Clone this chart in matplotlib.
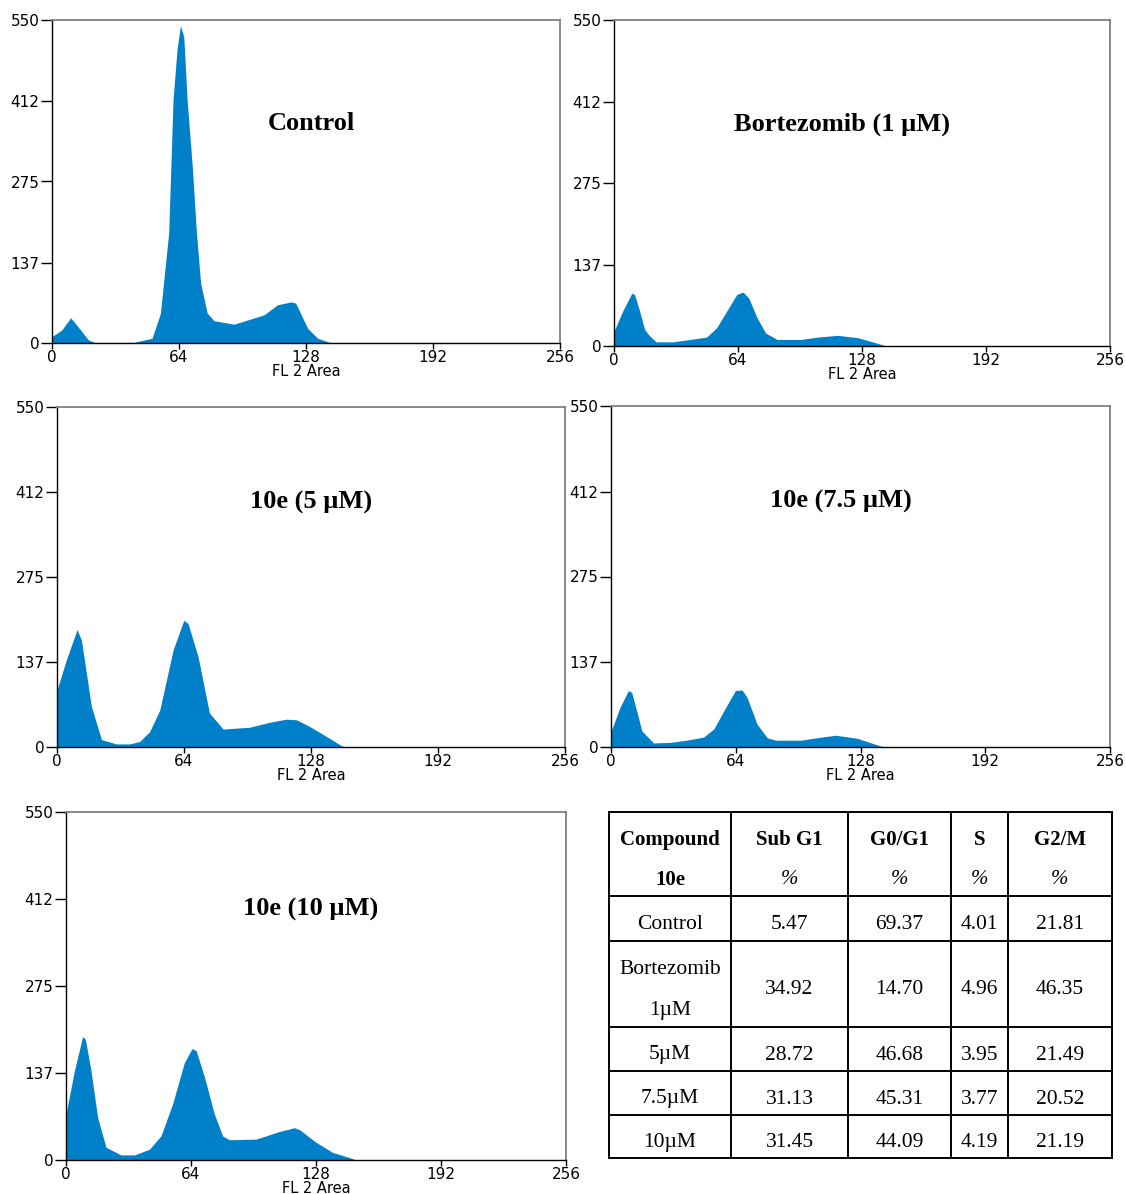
import matplotlib
matplotlib.use("Agg")
import matplotlib.pyplot as plt

W, H = 1126, 1194
BLUE = "#0080c8"

# histogram outlines: FL2 area (x) vs counts (y)
ctrl_x = [0, 4.9, 9.4, 13, 18.4, 21.7, 41, 50.4, 54.6, 58.8, 61, 63, 64.7, 66.4, 68.1, 70.7,
          72.8, 74.9, 78.2, 81.6, 91.7, 106.9, 113.6, 120.4, 122.8, 128.8, 133.9, 140, 256]
ctrl_y = [11, 22, 43, 28, 5, 1, 1, 8, 50, 187, 414, 500, 540, 522, 414, 300,
          187, 102, 51, 38, 32, 48, 65, 70, 68, 25, 8, 1, 1]

bort_x = [0, 4.5, 9.2, 10.6, 13.2, 15.8, 18.4, 21.8, 30.5, 39.2, 47.8, 53, 58.2, 63.4,
          66.6, 69.5, 73.8, 78.2, 84.2, 96.4, 105, 115.4, 125.8, 134.5, 140.6, 256]
bort_y = [25, 59, 89, 87, 59, 28, 17, 7, 7, 11, 15, 31, 59, 87,
          91, 81, 48, 22, 11, 11, 15, 18, 14, 6, 0, 0]

c5_x = [0, 4.7, 10.1, 12.3, 17.3, 22.4, 29.9, 36.6, 41.7, 46.7, 51.8, 58.5, 63.9, 66,
        71.1, 76.8, 83.7, 97.1, 107.2, 115.6, 120.7, 127.4, 135.8, 143.4, 146, 256]
c5_y = [92, 141, 190, 173, 66, 12, 5, 5, 9, 25, 60, 157, 205, 200,
        146, 55, 29, 32, 40, 45, 44, 33, 17, 2, 0, 0]

c75_x = [0, 4.6, 8.9, 10.6, 13.2, 15.8, 21.8, 30.4, 38.9, 47.5, 52.7, 57.8, 63.8, 67.2,
         69.8, 74.9, 80.1, 84.4, 97.3, 105.8, 115.3, 126.4, 135, 140, 256]
c75_y = [25, 64, 91, 88, 58, 26, 6.5, 7.5, 11, 16, 29, 58, 91, 92,
         80, 37, 15, 11, 11, 15, 19, 14, 5, 0, 0]

c10_x = [0, 4.3, 8.5, 9.9, 12.8, 16.2, 20.5, 28.2, 35, 42.7, 48.6, 54.6, 60.6, 64.5,
         66.6, 70.9, 75.9, 80.2, 83.6, 97.3, 109.2, 116.9, 119.5, 128, 136.5, 145, 148.5, 256]
c10_y = [73, 141, 195, 191, 141, 67, 20, 8, 8, 17, 38, 89, 154, 176,
         173, 131, 73, 38, 32, 33, 45, 51, 48, 28, 12, 4, 0, 0]

titles = ["Control", "Bortezomib (1 µM)", "10e (5 µM)", "10e (7.5 µM)", "10e (10 µM)"]
xticks = [0, 64, 128, 192, 256]
yticks = [0, 137, 275, 412, 550]

# table
col_heads = ["Sub G1", "G0/G1", "S", "G2/M"]
row_labels = ["Control", "Bortezomib\n1µM", "5µM", "7.5µM", "10µM"]
sub_g1 = ["5.47", "34.92", "28.72", "31.13", "31.45"]
g0_g1 = ["69.37", "14.70", "46.68", "45.31", "44.09"]
s_phase = ["4.01", "4.96", "3.95", "3.77", "4.19"]
g2_m = ["21.81", "46.35", "21.49", "20.52", "21.19"]

fig = plt.figure(figsize=(W / 100, H / 100), dpi=100)


def px_axes(l, t, r, b):
    return fig.add_axes([l / W, 1 - b / H, (r - l) / W, (b - t) / H])


panels = [
    ((52, 20, 560, 343), ctrl_x, ctrl_y, (0.51, 0.68)),
    ((614, 20, 1110, 346), bort_x, bort_y, (0.46, 0.68)),
    ((57, 407, 565, 747), c5_x, c5_y, (0.50, 0.72)),
    ((611, 406, 1110, 747), c75_x, c75_y, (0.46, 0.72)),
    ((66, 812, 566, 1160), c10_x, c10_y, (0.49, 0.72)),
]

for (box, xs, ys, tpos), title in zip(panels, titles):
    ax = px_axes(*box)
    ax.fill_between(xs, ys, 0, color=BLUE, lw=0)
    ax.set_xlim(0, 256)
    ax.set_ylim(0, 550)
    ax.set_xticks(xticks)
    ax.set_yticks(yticks)
    ax.set_xticklabels([str(v) for v in xticks], fontsize=11)
    ax.set_yticklabels([str(v) for v in yticks], fontsize=11)
    ax.tick_params(axis="y", direction="out", length=8, width=1, pad=1)
    ax.tick_params(axis="x", direction="out", length=4, width=1, pad=1)
    for s in ("top", "right"):
        ax.spines[s].set_color("#808080")
        ax.spines[s].set_linewidth(1.3)
    for s in ("left", "bottom"):
        ax.spines[s].set_color("black")
        ax.spines[s].set_linewidth(1.0)
    ax.set_xlabel("FL 2 Area", fontsize=10.5, labelpad=-1)
    ax.text(tpos[0], tpos[1], title, transform=ax.transAxes, ha="center", va="center",
            fontsize=19, fontweight="bold", family="Liberation Serif")

# table drawn in pixel coordinates
tx = px_axes(609, 812, 1112, 1158)
tx.set_xlim(609, 1112)
tx.set_ylim(1158, 812)
tx.axis("off")
col_edges = [609, 731, 848, 951, 1008, 1112]
row_edges = [812, 896, 941, 1027, 1071, 1115, 1158]
for xe in col_edges:
    tx.plot([xe, xe], [812, 1158], color="black", lw=1.4, clip_on=False)
for ye in row_edges:
    tx.plot([609, 1112], [ye, ye], color="black", lw=1.4, clip_on=False)

centers = [(col_edges[i] + col_edges[i + 1]) / 2 for i in range(5)]
serif = "Liberation Serif"
fs = 15.5
tx.text(centers[0], 840, "Compound", ha="center", va="center", fontsize=15,
        fontweight="bold", family=serif)
tx.text(centers[0], 880, "10e", ha="center", va="center", fontsize=15,
        fontweight="bold", family=serif)
for c, head in zip(centers[1:], col_heads):
    tx.text(c, 840, head, ha="center", va="center", fontsize=15, fontweight="bold", family=serif)
    tx.text(c, 880, "%", ha="center", va="center", fontsize=15, family=serif, style="italic")

for r, lab in enumerate(row_labels):
    yc = (row_edges[r + 1] + row_edges[r + 2]) / 2 + 6
    if "\n" in lab:
        top, bot = lab.split("\n")
        tx.text(centers[0], yc - 21, top, ha="center", va="center", fontsize=fs, family=serif)
        tx.text(centers[0], yc + 21, bot, ha="center", va="center", fontsize=fs, family=serif)
    else:
        tx.text(centers[0], yc, lab, ha="center", va="center", fontsize=fs, family=serif)
    for c, col in zip(centers[1:], [sub_g1, g0_g1, s_phase, g2_m]):
        tx.text(c, yc, col[r], ha="center", va="center", fontsize=fs, family=serif)

fig.savefig("out.png", dpi=100)
